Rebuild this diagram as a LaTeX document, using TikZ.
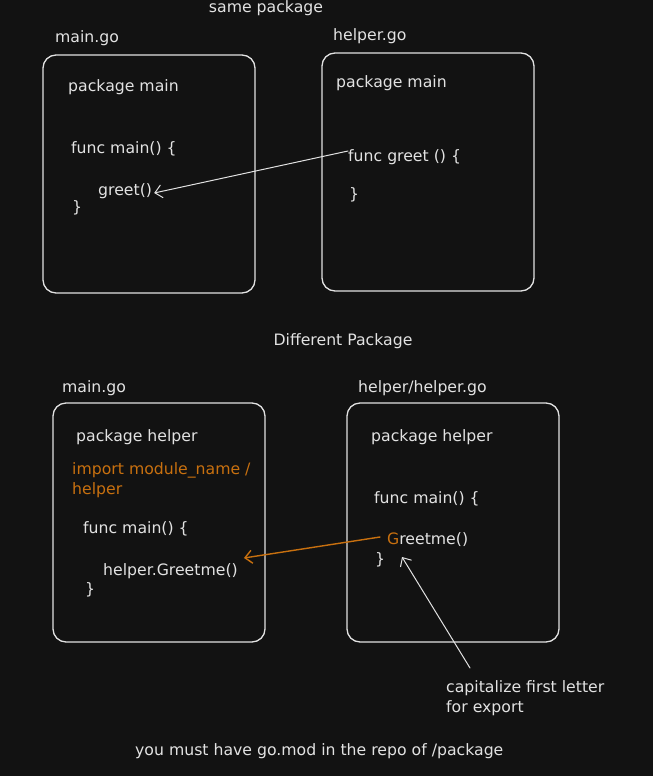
\documentclass[tikz,border=0pt]{standalone}
\usepackage{fontspec}
\setmainfont{DejaVu Sans}
\usetikzlibrary{arrows.meta}
\definecolor{bg}{HTML}{121212}
\definecolor{ink}{HTML}{E2E2E2}
\definecolor{accent}{HTML}{C8700F}
\begin{document}
\begin{tikzpicture}[x=1pt,y=-1pt,>={Straight Barb[length=7pt,width=13pt]},line cap=round,
  filebox/.style={draw=ink,line width=1.3pt,rounded corners=13pt},
  txt/.style={text=ink,anchor=base west,inner sep=0pt,font=\fontsize{15.7}{20.5}\selectfont},
  hl/.style={txt,text=accent},
  link/.style={->,draw=ink,line width=1pt}]
\fill[bg] (0,0) rectangle (653,776);
\useasboundingbox (0,0) rectangle (653,776);
% same package
\node[txt,anchor=base] (same) at (266,13) {same package};
\node[txt] (mainname) at (55,43) {main.go};
\node[txt] (helpername) at (333,41) {helper.go};
\draw[filebox] (43,55) rectangle (255,293);
\draw[filebox] (322,53) rectangle (534,291);
\node[txt] (pkga) at (68,92) {package main};
\node[txt] (funca) at (71,153) {func main() \{};
\node[txt] (greetcall) at (98,195) {greet()};
\node[txt] (closea) at (72,212) {\}};
\node[txt] (pkgb) at (336,87) {package main};
\node[txt] (greetdef) at (348,161) {func greet () \{};
\node[txt] (closeb) at (349,199) {\}};
\draw[link] ([yshift=10pt]greetdef.base west) -- ([xshift=2pt,yshift=2pt]greetcall.base east);
% different package
\node[txt,anchor=base] (diff) at (343,345) {Different Package};
\node[txt] (mainname2) at (62,392) {main.go};
\node[txt] (helpername2) at (358,392) {helper/helper.go};
\draw[filebox] (53,403) rectangle (265,642);
\draw[filebox] (347,403) rectangle (559,642);
\node[txt] (pkgc) at (76,441) {package helper};
\node[hl,align=left,anchor=north west] (import) at (72,462) {import module\_name /\\helper};
\node[txt] (funcc) at (83,533) {func main() \{};
\node[txt] (callc) at (103,575) {helper.Greetme()};
\node[txt] (closec) at (85,594) {\}};
\node[txt] (pkgd) at (371,441) {package helper};
\node[txt] (funcd) at (374,503) {func main() \{};
\node[txt] (greetme) at (387,544) {\textcolor{accent}{G}reetme()};
\node[txt] (closed) at (375,564) {\}};
\draw[link,draw=accent,line width=1.4pt] ([xshift=-7pt,yshift=7pt]greetme.base west) -- ([xshift=6pt,yshift=17pt]callc.base east);
% notes
\node[txt,align=left,anchor=north west] (note) at (446,680) {capitalize first letter\\for export};
\node[txt] (gomod) at (135,755) {you must have go.mod in the repo of /package};
\coordinate (tip) at ([xshift=15pt,yshift=-13pt]greetme.base west);
\draw[link] ([xshift=24pt,yshift=12pt]note.north west) -- (tip);
\end{tikzpicture}
\end{document}
